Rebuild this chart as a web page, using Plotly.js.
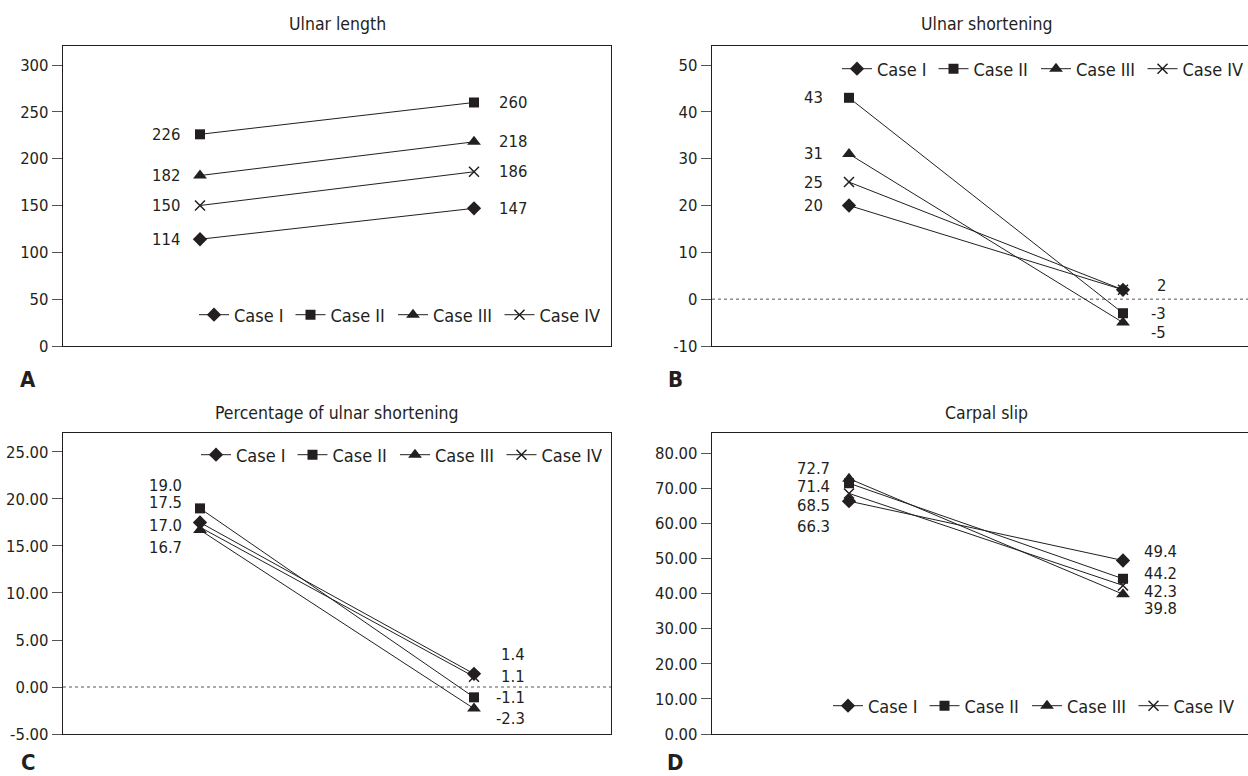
<!DOCTYPE html>
<html>
<head>
<meta charset="utf-8">
<script src="https://cdn.plot.ly/plotly-3.0.1.min.js"></script>
<style>
  html, body { margin: 0; padding: 0; background: #fff; }
  #chart { width: 1248px; height: 776px; }
</style>
</head>
<body>
<div id="chart"></div>
<script>
// ---------------- DATA ----------------
const stages = [0, 1];
const caseNames = ['Case I', 'Case II', 'Case III', 'Case IV'];

// values: [first time point, second time point] per case (I, II, III, IV)
const ulnarLength      = [[114, 147], [226, 260], [182, 218], [150, 186]];
const ulnarShortening  = [[20, 2], [43, -3], [31, -5], [25, 2]];
const pctShortening    = [[17.5, 1.4], [19.0, -1.1], [16.7, -2.3], [17.0, 1.1]];
const carpalSlip       = [[66.3, 49.4], [71.4, 44.2], [72.7, 39.8], [68.5, 42.3]];

// data-label texts (left point, right point) per case
const lengthLeftLabels  = ['114', '226', '182', '150'];
const lengthRightLabels = ['147', '260', '218', '186'];
const shortLeftLabels   = ['20', '43', '31', '25'];
const shortRightLabels  = ['2', '-3', '-5', ''];
const pctLeftLabels     = ['17.5', '19.0', '16.7', '17.0'];
const pctRightLabels    = ['1.4', '-1.1', '-2.3', '1.1'];
const slipLeftLabels    = ['66.3', '71.4', '72.7', '68.5'];
const slipRightLabels   = ['49.4', '44.2', '39.8', '42.3'];

// tick values
const lengthTicks = [0, 50, 100, 150, 200, 250, 300];
const shortTicks  = [-10, 0, 10, 20, 30, 40, 50];
const pctTicks    = [-5, 0, 5, 10, 15, 20, 25];
const slipTicks   = [0, 10, 20, 30, 40, 50, 60, 70, 80];

const panelTitles  = ['Ulnar length', 'Ulnar shortening', 'Percentage of ulnar shortening', 'Carpal slip'];
const panelLetters = ['A', 'B', 'C', 'D'];

// ---------------- STYLE / LAYOUT ----------------
const FONT = "'DejaVu Sans Condensed', 'Liberation Sans Narrow', 'Liberation Sans', sans-serif";
const INK = '#231f20';
const NUM_SIZE = 16.5, LEG_SIZE = 18, TITLE_SIZE = 17.5;
const symbols = ['diamond', 'square', 'triangle-up', 'x-thin'];
const symSizes = [11, 10, 12, 10];
const legendWidths = [51.5, 57.5, 61.5, 55];

const W = 1248, H = 776;
const px = v => v / W;
const py = v => 1 - v / H;

const panels = [
  { data: ulnarLength, left: lengthLeftLabels, right: lengthRightLabels, ax: '', legend: 'legend',
    leftAnchor: 'right', leftX: -18, leftY: [0, 0, 0, 0],
    rightAnchor: 'left', rightX: 23, rightY: [0, 0, 0, 0] },
  { data: ulnarShortening, left: shortLeftLabels, right: shortRightLabels, ax: '2', legend: 'legend2',
    leftAnchor: 'right', leftX: -24, leftY: [0, 0, 0, 0],
    rightAnchor: 'right', rightX: 45, rightY: [4, 0, -10, 0] },
  { data: pctShortening, left: pctLeftLabels, right: pctRightLabels, ax: '3', legend: 'legend3',
    leftAnchor: 'right', leftX: -16, leftY: [19.5, 23, -17, 2],
    rightAnchor: 'right', rightX: 53, rightY: [19, 0, -9.4, 0] },
  { data: carpalSlip, left: slipLeftLabels, right: slipRightLabels, ax: '4', legend: 'legend4',
    leftAnchor: 'right', leftX: -17, leftY: [-25.6, -2.8, 10.3, -11.6],
    rightAnchor: 'left', rightX: 19, rightY: [8.8, 5.5, -14, -6.2] }
];

const traces = [];
const annotations = [];

panels.forEach(p => {
  const xr = 'x' + p.ax, yr = 'y' + p.ax;
  p.data.forEach((vals, i) => {
    traces.push({
      type: 'scatter', mode: 'lines+markers',
      x: stages, y: vals, name: caseNames[i],
      xaxis: xr, yaxis: yr, legend: p.legend, legendwidth: legendWidths[i],
      line: { color: INK, width: 1 },
      marker: { symbol: symbols[i], size: symSizes[i], color: INK,
                line: { color: INK, width: symbols[i] === 'x-thin' ? 1.5 : 0 } },
      hoverinfo: 'skip', cliponaxis: false
    });
    if (p.left[i]) annotations.push({
      xref: xr, yref: yr, x: stages[0], y: vals[0], text: p.left[i], showarrow: false,
      xanchor: p.leftAnchor, yanchor: 'middle', xshift: p.leftX, yshift: p.leftY[i],
      font: { family: FONT, size: NUM_SIZE, color: INK }
    });
    if (p.right[i]) annotations.push({
      xref: xr, yref: yr, x: stages[1], y: vals[1], text: p.right[i], showarrow: false,
      xanchor: p.rightAnchor, yanchor: 'middle', xshift: p.rightX, yshift: p.rightY[i],
      font: { family: FONT, size: NUM_SIZE, color: INK }
    });
  });
});

// titles
const titlePos = [[337, 24], [986, 24], [337, 413], [986, 413]];
panelTitles.forEach((t, i) => annotations.push({
  xref: 'paper', yref: 'paper', x: px(titlePos[i][0]), y: py(titlePos[i][1]),
  text: t, showarrow: false, xanchor: 'center', yanchor: 'middle',
  font: { family: FONT, size: TITLE_SIZE, color: INK }
}));
// panel letters
const letterPos = [[28, 379], [675, 379], [28, 762], [675, 762]];
panelLetters.forEach((t, i) => annotations.push({
  xref: 'paper', yref: 'paper', x: px(letterPos[i][0]), y: py(letterPos[i][1]),
  text: '<b>' + t + '</b>', showarrow: false, xanchor: 'center', yanchor: 'middle',
  font: { family: FONT, size: 22, color: INK }, borderpad: 0
}));

const xBase = {
  showline: true, mirror: true, linecolor: INK, linewidth: 1.2,
  showticklabels: false, ticks: '', showgrid: false, zeroline: false, fixedrange: true
};
const yBase = {
  showline: true, linecolor: INK, linewidth: 1.2, ticks: 'outside', ticklen: 10,
  tickwidth: 1, tickcolor: '#555', showgrid: false, zeroline: false, fixedrange: true,
  tickfont: { family: FONT, size: NUM_SIZE, color: INK }
};
const tickText = (vals, dec) => vals.map(v => v.toFixed(dec));
const leftDom = [px(63), px(611)], rightDom = [px(712), 1];
const topDom = [py(346), py(46)], botDom = [py(734), py(433)];
const rightRange = [-0.5, -0.5 + (W - 712) / 274];

const legBase = { orientation: 'h', bgcolor: 'rgba(0,0,0,0)', borderwidth: 0,
  font: { family: FONT, size: LEG_SIZE, color: INK }, yanchor: 'middle', xanchor: 'left',
  itemclick: false, itemdoubleclick: false };

const layout = {
  width: W, height: H, margin: { l: 0, r: 0, t: 0, b: 0 },
  paper_bgcolor: '#fff', plot_bgcolor: '#fff',
  font: { family: FONT, color: INK },
  showlegend: true,
  xaxis:  Object.assign({}, xBase, { domain: leftDom, range: [-0.5, 1.5], anchor: 'y' }),
  yaxis:  Object.assign({}, yBase, { domain: topDom, range: [0, 320.3], tickvals: lengthTicks,
            ticktext: tickText(lengthTicks, 0), mirror: true, anchor: 'x' }),
  xaxis2: Object.assign({}, xBase, { domain: rightDom, range: rightRange, anchor: 'y2' }),
  yaxis2: Object.assign({}, yBase, { domain: topDom, range: [-10, 54.06], tickvals: shortTicks,
            ticktext: tickText(shortTicks, 0), mirror: false, anchor: 'x2' }),
  xaxis3: Object.assign({}, xBase, { domain: leftDom, range: [-0.5, 1.5], anchor: 'y3' }),
  yaxis3: Object.assign({}, yBase, { domain: botDom, range: [-5, 27.02], tickvals: pctTicks,
            ticktext: tickText(pctTicks, 2), mirror: true, anchor: 'x3' }),
  xaxis4: Object.assign({}, xBase, { domain: rightDom, range: rightRange, anchor: 'y4' }),
  yaxis4: Object.assign({}, yBase, { domain: botDom, range: [0, 85.7], tickvals: slipTicks,
            ticktext: tickText(slipTicks, 2), mirror: false, anchor: 'x4' }),
  legend:  Object.assign({}, legBase, { x: px(194), y: py(315) }),
  legend2: Object.assign({}, legBase, { x: px(837), y: py(69) }),
  legend3: Object.assign({}, legBase, { x: px(196), y: py(455) }),
  legend4: Object.assign({}, legBase, { x: px(828), y: py(706) }),
  shapes: [
    { type: 'line', xref: 'x2 domain', x0: 0, x1: 1, yref: 'y2', y0: 0, y1: 0,
      line: { color: '#555', width: 1, dash: 'dot' }, layer: 'below' },
    { type: 'line', xref: 'x3 domain', x0: 0, x1: 1, yref: 'y3', y0: 0, y1: 0,
      line: { color: '#555', width: 1, dash: 'dot' }, layer: 'below' }
  ],
  annotations: annotations
};

Plotly.newPlot('chart', traces, layout, { displayModeBar: false, staticPlot: true });
</script>
</body>
</html>
